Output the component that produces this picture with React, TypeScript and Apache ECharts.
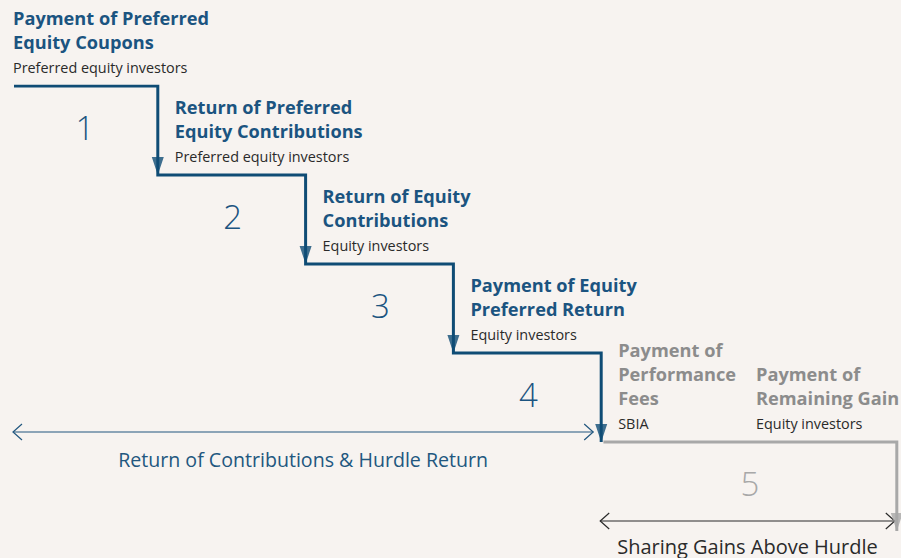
import React, { useEffect, useRef } from "react";
import * as echarts from "echarts";

// ---- data ----
const stepTitles: string[][] = [
  ["Payment of Preferred", "Equity Coupons"],
  ["Return of Preferred", "Equity Contributions"],
  ["Return of Equity", "Contributions"],
  ["Payment of Equity", "Preferred Return"],
  ["Payment of", "Performance", "Fees"],
];
const stepRecipients: string[] = [
  "Preferred equity investors",
  "Preferred equity investors",
  "Equity investors",
  "Equity investors",
  "SBIA",
];
const stepNumbers: string[] = ["1", "2", "3", "4", "5"];
// extra label within step 5
const extraTitle: string[] = ["Payment of", "Remaining Gain"];
const extraRecipient = "Equity investors";
// step widths (in step units)
const stepWidths: number[] = [1, 1, 1, 1, 2];
const spanLabels: string[] = ["Return of Contributions & Hurdle Return", "Sharing Gains Above Hurdle"];

// ---- styles ----
const BG = "#f7f3f0";
const BLUE = "#0f4c75";
const BLUE_TEXT = "#1b5480";
const SPAN_BLUE = "#22577f";
const GRAY_LINE = "#a8a8a8";
const GRAY_TEXT = "#8c8c8c";
const DARK = "#2a2a2a";
const FONT = "'Open Sans', 'Noto Sans', sans-serif";

export default function App() {
  const ref = useRef<HTMLDivElement>(null);
  useEffect(() => {
    if (!ref.current) return;
    const chart = echarts.init(ref.current, null, { renderer: "svg" });

    const bluePts: number[][] = [];
    const grayPts: number[][] = [];
    const blueArrows: number[][] = [];
    const grayArrows: number[][] = [];
    let x = 0;
    stepWidths.forEach((w, i) => {
      const pts = i < 4 ? bluePts : grayPts;
      const x0 = i === 0 ? x + 0.027 : x + 0.015;
      pts.push([x0, i], [x + w, i], [x + w, i + 1]);
      (i < 4 ? blueArrows : grayArrows).push([x + w, i + 1]);
      x += w;
    });
    const totalX = x;

    chart.setOption({
      animation: false,
      backgroundColor: BG,
      grid: { left: 10, right: 4.2, top: 86, bottom: 27 },
      xAxis: { type: "value", min: 0, max: totalX, show: false },
      yAxis: { type: "value", min: 0, max: 5, inverse: true, show: false },
      series: [
        {
          type: "line",
          data: bluePts,
          symbol: "none",
          lineStyle: { color: BLUE, width: 3, join: "miter", cap: "butt" },
          z: 3,
        },
        {
          type: "line",
          data: grayPts,
          symbol: "none",
          lineStyle: { color: GRAY_LINE, width: 3, join: "miter", cap: "butt" },
          z: 2,
        },
        {
          type: "scatter",
          data: blueArrows,
          symbol: "triangle",
          symbolSize: [12, 18],
          symbolRotate: 180,
          symbolOffset: [0, -9],
          itemStyle: { color: BLUE },
          z: 4,
        },
        {
          type: "scatter",
          data: grayArrows,
          symbol: "triangle",
          symbolSize: [12, 18],
          symbolRotate: 180,
          symbolOffset: [0, -9],
          itemStyle: { color: GRAY_LINE },
          z: 4,
        },
      ],
    });

    const px = (p: number[]) => chart.convertToPixel({ gridIndex: 0 }, p) as number[];

    const graphics: any[] = [];
    const addBlock = (left: number, lineY: number, title: string[], sub: string, color: string) => {
      const n = title.length;
      title.forEach((t, k) => {
        graphics.push({
          type: "text",
          x: left,
          y: lineY - 44 - (n - 1 - k) * 24,
          style: { text: t, fill: color, font: `bold 18.2px ${FONT}`, verticalAlign: "middle", align: "left" },
        });
      });
      graphics.push({
        type: "text",
        x: left,
        y: lineY - 19,
        style: { text: sub, fill: DARK, font: `14.4px ${FONT}`, verticalAlign: "middle", align: "left" },
      });
    };

    let sx = 0;
    stepWidths.forEach((w, i) => {
      const start = px([sx, i]);
      const end = px([sx + w, i]);
      const color = i < 4 ? BLUE_TEXT : GRAY_TEXT;
      const left = i === 0 ? start[0] + 3 : start[0] + 17;
      addBlock(left, start[1], stepTitles[i], stepRecipients[i], color);
      graphics.push({
        type: "text",
        x: (start[0] + end[0]) / 2 + 1,
        y: start[1] + 41,
        style: {
          text: stepNumbers[i],
          fill: i < 4 ? BLUE_TEXT : GRAY_LINE,
          font: `300 33px ${FONT}`,
          align: "center",
          verticalAlign: "middle",
        },
      });
      if (i === 4) {
        const mid = px([sx + 1, i]);
        addBlock(mid[0] + 7, mid[1], extraTitle, extraRecipient, GRAY_TEXT);
      }
      sx += w;
    });

    const addSpan = (x0: number, x1: number, y: number, ty: number, fs: number, label: string, color: string, textColor: string) => {
      graphics.push({
        type: "line",
        shape: { x1: x0, y1: y, x2: x1, y2: y },
        style: { stroke: color, lineWidth: 1.2 },
      });
      graphics.push({
        type: "polyline",
        shape: { points: [[x0 + 9, y - 8], [x0, y], [x0 + 9, y + 8]] },
        style: { stroke: color, lineWidth: 1.2, fill: null },
      });
      graphics.push({
        type: "polyline",
        shape: { points: [[x1 - 9, y - 8], [x1, y], [x1 - 9, y + 8]] },
        style: { stroke: color, lineWidth: 1.2, fill: null },
      });
      graphics.push({
        type: "text",
        x: (x0 + x1) / 2,
        y: y + ty,
        style: { text: label, fill: textColor, font: `${fs}px ${FONT}`, align: "center", verticalAlign: "middle" },
      });
    };
    const a0 = px([0, 4]);
    const a1 = px([4, 4]);
    addSpan(a0[0] + 3, a1[0] - 8, a0[1] - 10, 27, 19.6, spanLabels[0], SPAN_BLUE, SPAN_BLUE);
    const b0 = px([4, 5]);
    const b1 = px([totalX, 5]);
    addSpan(b0[0] - 1, b1[0] - 2, b0[1] - 10, 25, 20, spanLabels[1], DARK, DARK);

    chart.setOption({ graphic: graphics });

    return () => chart.dispose();
  }, []);

  return (
    <div
      ref={ref}
      style={{ width: 901, height: 558, position: "fixed", left: 0, top: 0, background: BG }}
    />
  );
}
